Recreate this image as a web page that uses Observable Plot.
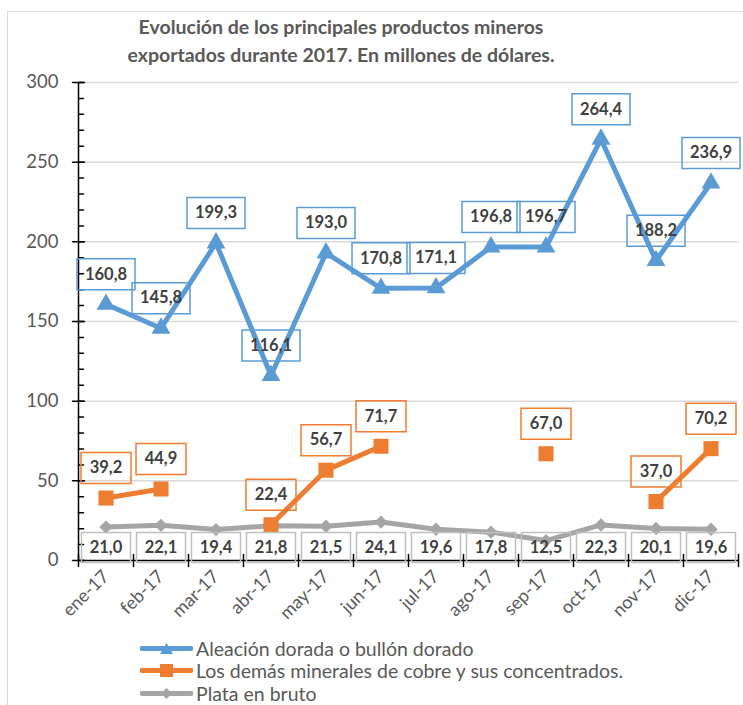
<!DOCTYPE html>
<html>
<head>
<meta charset="utf-8">
<script src="https://cdn.jsdelivr.net/npm/d3@7"></script>
<script src="https://cdn.jsdelivr.net/npm/@observablehq/plot@0.6"></script>
<style>
  html, body { margin: 0; padding: 0; background: #fff; }
  #wrap { position: relative; width: 743px; height: 705px; overflow: hidden; font-family: Lato, sans-serif; }
  #border { position: absolute; left: 7px; top: 11px; width: 900px; height: 900px; border-left: 1px solid #d9d9d9; border-top: 1px solid #d9d9d9; }
  #title { position: absolute; left: 0; top: 13px; width: 682px; text-align: center; font-weight: bold; font-size: 19.5px; line-height: 28px; color: #595959; }
  #chart { position: absolute; left: 0; top: 70px; }
  #legend { position: absolute; left: 140px; top: 637px; color: #595959; font-size: 19.5px; }
  .row { display: flex; align-items: center; height: 22.5px; }
  .row svg { margin-right: 3px; }
</style>
</head>
<body>
<div id="wrap">
  <div id="border"></div>
  <div id="title">Evolución de los principales productos mineros<br>exportados durante 2017. En millones de dólares.</div>
  <div id="chart"></div>
  <div id="legend"></div>
</div>
<script>
const months = ["ene-17","feb-17","mar-17","abr-17","may-17","jun-17","jul-17","ago-17","sep-17","oct-17","nov-17","dic-17"];
const aleacion = [160.8, 145.8, 199.3, 116.1, 193.0, 170.8, 171.1, 196.8, 196.7, 264.4, 188.2, 236.9];
const cobre = [39.2, 44.9, null, 22.4, 56.7, 71.7, null, null, 67.0, null, 37.0, 70.2];
const plata = [21.0, 22.1, 19.4, 21.8, 21.5, 24.1, 19.6, 17.8, 12.5, 22.3, 20.1, 19.6];
const seriesNames = ["Aleación dorada o bullón dorado", "Los demás minerales de cobre y sus concentrados.", "Plata en bruto"];
const colors = ["#5B9BD5", "#ED7D31", "#A5A5A5"];
const yTicks = [0, 50, 100, 150, 200, 250, 300];
const yMinor = d3.range(0, 301, 10);
const xBounds = d3.range(-0.5, 12, 1);

const rows = months.map((m, i) => ({i, m, a: aleacion[i], c: cobre[i], p: plata[i]}));
const fmt = v => v.toFixed(1).replace(".", ",");
const box = (w, h) => ({draw(ctx) { ctx.rect(-w / 2, -h / 2, w, h); }});
const tickShape = {draw(ctx, l) { ctx.moveTo(0, 0); ctx.lineTo(0, -l); }};
const labelFont = {fontFamily: "Lato", fontWeight: "bold", fontSize: 16.5, fill: "#404040", lineAnchor: "middle"};

const chart = Plot.plot({
  width: 743,
  height: 570,
  marginTop: 12,
  marginLeft: 78,
  marginRight: 5,
  marginBottom: 80,
  style: {fontFamily: "Lato", color: "#595959", background: "transparent"},
  x: {type: "linear", domain: [-0.5, 11.5]},
  y: {domain: [0, 300]},
  marks: [
    Plot.gridY(yTicks.filter(d => d > 0), {stroke: "#d9d9d9", strokeOpacity: 1, strokeWidth: 1.5}),
    Plot.axisY(yTicks, {tickSize: 0, tickPadding: 20, fontSize: 18.5, label: null}),
    Plot.axisX(d3.range(12), {tickSize: 0, tickPadding: 13, tickRotate: -45, fontSize: 18, tickFormat: i => months[i], label: null}),
    Plot.ruleX([-0.5], {stroke: "black", strokeWidth: 1.5}),
    Plot.ruleY([0], {stroke: "black", strokeWidth: 1.5}),
    Plot.vector(yTicks, {y: d => d, frameAnchor: "left", rotate: 90, length: 12, anchor: "middle", shape: tickShape, stroke: "black", strokeWidth: 1.5}),
    Plot.vector(yMinor, {y: d => d, frameAnchor: "left", rotate: 90, length: 5, anchor: "start", shape: tickShape, stroke: "black", strokeWidth: 1.5}),
    Plot.vector(xBounds, {x: d => d, frameAnchor: "bottom", rotate: 0, length: 12, anchor: "middle", shape: tickShape, stroke: "black", strokeWidth: 1.5}),
    // Plata
    Plot.line(rows, {x: "i", y: "p", stroke: colors[2], strokeWidth: 5}),
    Plot.dot(rows, {x: "i", y: "p", symbol: "diamond2", r: 6, fill: colors[2]}),
    // Cobre
    Plot.line(rows, {x: "i", y: "c", stroke: colors[1], strokeWidth: 5}),
    Plot.dot(rows.filter(d => d.c != null), {x: "i", y: "c", symbol: "square", r: 8.5, fill: colors[1]}),
    // Aleacion
    Plot.line(rows, {x: "i", y: "a", stroke: colors[0], strokeWidth: 5}),
    Plot.dot(rows, {x: "i", y: "a", symbol: "triangle", r: 7, fill: colors[0]}),
    // labels
    Plot.dot(rows, {x: "i", y: "a", dy: -30, symbol: box(58, 31), fill: "none", stroke: colors[0], strokeWidth: 1.5}),
    Plot.text(rows, {x: "i", y: "a", dy: -30, text: d => fmt(d.a), ...labelFont}),
    Plot.dot(rows.filter(d => d.c != null), {x: "i", y: "c", dy: -30, symbol: box(50, 31), fill: "none", stroke: colors[1], strokeWidth: 1.5}),
    Plot.text(rows.filter(d => d.c != null), {x: "i", y: "c", dy: -30, text: d => fmt(d.c), ...labelFont}),
    Plot.dot(rows, {x: "i", frameAnchor: "bottom", dy: -13, symbol: box(49, 30), fill: "none", stroke: "#bfbfbf", strokeWidth: 1.5}),
    Plot.text(rows, {x: "i", frameAnchor: "bottom", dy: -13, text: d => fmt(d.p), ...labelFont})
  ]
});
document.getElementById("chart").appendChild(chart);

const symbolsLegend = [
  '<path d="M26.5,4 L33,15 L20,15 Z" />',
  '<rect x="20" y="3" width="13" height="13" />',
  '<path d="M26.5,4 L32,9.5 L26.5,15 L21,9.5 Z" />'
];
const legend = document.getElementById("legend");
seriesNames.forEach((name, k) => {
  const row = document.createElement("div");
  row.className = "row";
  row.innerHTML = `<svg width="53" height="19"><line x1="2" y1="9.5" x2="51" y2="9.5" stroke="${colors[k]}" stroke-width="5" stroke-linecap="round"/><g fill="${colors[k]}">${symbolsLegend[k]}</g></svg><span>${name}</span>`;
  legend.appendChild(row);
});
</script>
</body>
</html>
